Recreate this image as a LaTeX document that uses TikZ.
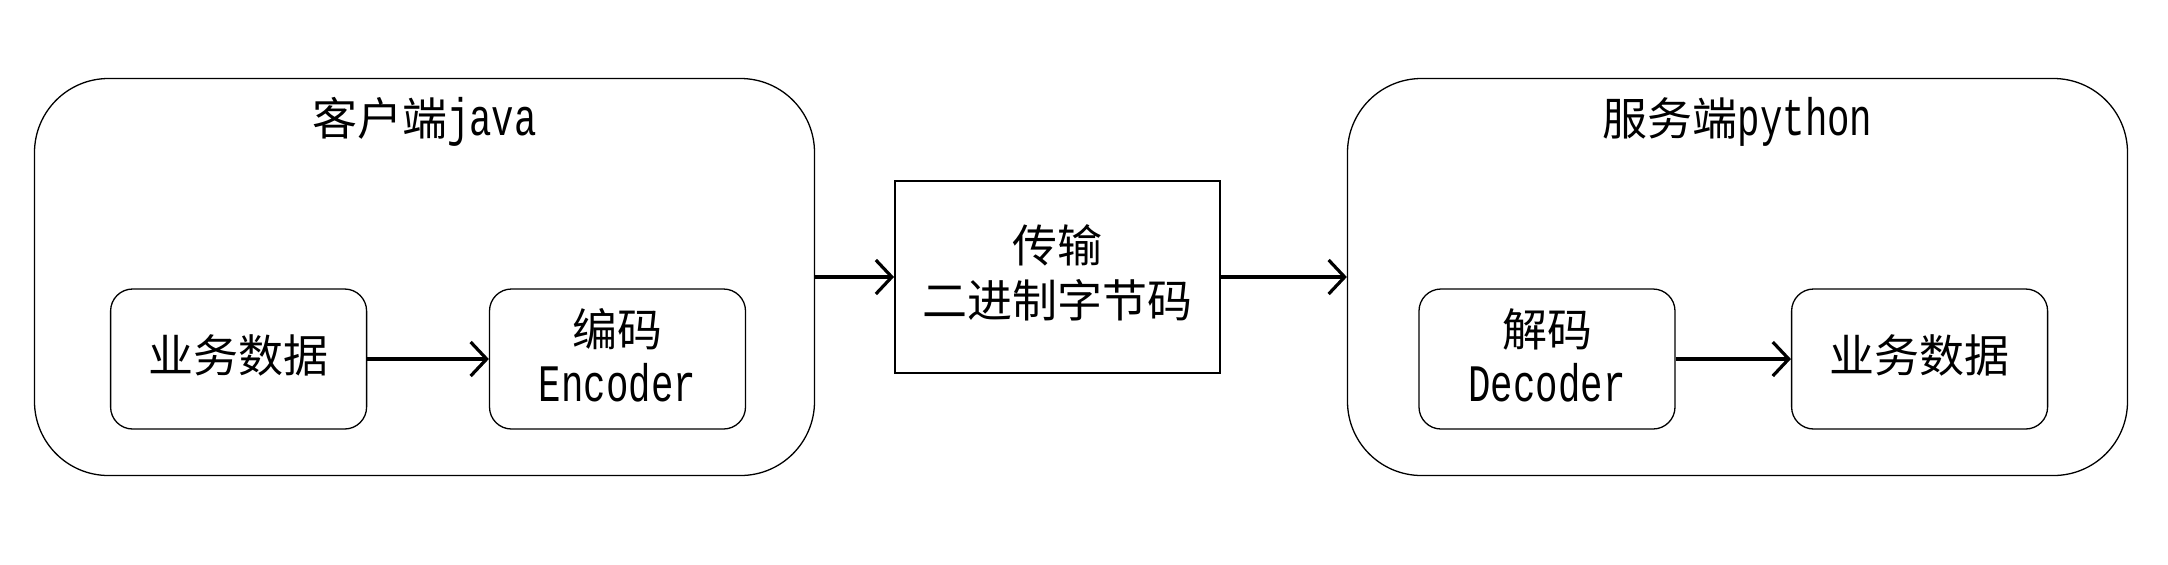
\documentclass[tikz,border=0pt]{standalone}
\usepackage{fontspec}
\setmainfont{Noto Sans CJK SC}
\newfontfamily\lat[Scale=1.17,FakeStretch=0.71]{Liberation Mono}
\usetikzlibrary{arrows.meta}
\tikzset{
  outerbox/.style={draw, line width=0.65pt, rounded corners=37pt, minimum width=390pt, minimum height=198.5pt, inner sep=0pt},
  innerbox/.style={draw, line width=0.65pt, rounded corners=11pt, minimum width=128pt, minimum height=70pt, inner sep=0pt},
  midbox/.style={draw, line width=0.75pt, minimum width=162.5pt, minimum height=96pt, inner sep=0pt},
  lbl/.style={font=\fontsize{22.5pt}{27.5pt}\selectfont, align=center, inner sep=0pt},
  flow/.style={line width=1.6pt, -{Straight Barb[length=8pt,width=17pt,line width=1.6pt]}}
}
\begin{document}
\begin{tikzpicture}[x=0.5pt,y=-0.5pt]
\useasboundingbox (0,0) rectangle (2168,564);
\node[outerbox] (cl) at (424.5,277) {};
\node[outerbox] (sv) at (1737.5,277) {};
\node[lbl] (clt) at (424.5,122) {客户端{\lat java}};
\node[lbl] (svt) at (1737.5,122) {服务端{\lat python}};
\node[innerbox] (a1) at (238.6,359) {};
\node[innerbox] (a2) at (617.5,359) {};
\node[midbox] (m) at (1057.3,277) {};
\node[innerbox] (b1) at (1547,359) {};
\node[innerbox] (b2) at (1919.6,359) {};
\node[lbl] (a1t) at ([yshift=2pt]a1.center) {业务数据};
\node[lbl] (a2t) at ([yshift=2pt]a2.center) {编码\\{\lat Encoder}};
\node[lbl] (mt) at ([yshift=2pt]m.center) {传输\\二进制字节码};
\node[lbl] (b1t) at ([yshift=2pt]b1.center) {解码\\{\lat Decoder}};
\node[lbl] (b2t) at ([yshift=2pt]b2.center) {业务数据};
\draw[flow] (a1.east) -- (a2.west);
\draw[flow] (cl.east) -- (m.west);
\draw[flow] (m.east) -- (sv.west);
\draw[flow] (b1.east) -- (b2.west);
\end{tikzpicture}
\end{document}
